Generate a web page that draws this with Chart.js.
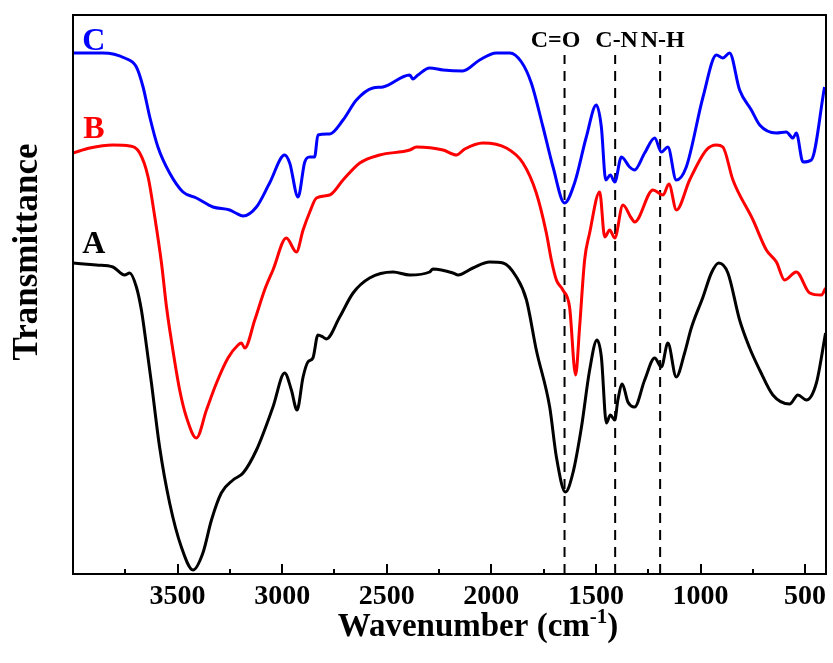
<!DOCTYPE html>
<html>
<head>
<meta charset="utf-8">
<script src="https://cdn.jsdelivr.net/npm/chart.js@4.4.1/dist/chart.umd.min.js"></script>
<style>
html, body { margin: 0; padding: 0; background: #fff; }
canvas { display: block; }
</style>
</head>
<body>
<canvas id="ftir" width="833" height="663"></canvas>
<script>
// sample A (black)
const waveA = [4000,3888,3809,3753,3729,3697,3673,3657,3625,3586,3538,3482,3426,3379,3338,3291,3235,3187,3123,3044,2988,2956,2929,2900,2877,2853,2829,2805,2789,2725,2661,2582,2470,2390,2295,2279,2183,2159,2088,2008,1944,1880,1832,1785,1721,1689,1646,1610,1569,1530,1495,1474,1450,1431,1410,1395,1374,1347,1315,1267,1219,1187,1156,1116,1076,1044,988,948,913,869,813,765,717,654,574,534,494,446,402];
const transA = [311,309,307,299,301,287,264,241,191,127,71,27,4,21,54,81,94,101,124,167,201,184,164,197,212,216,239,237,235,257,281,296,302,299,302,305,301,299,306,312,311,297,274,224,167,117,82,101,147,204,234,217,151,159,154,174,190,172,167,194,216,207,231,197,221,246,277,301,311,301,254,226,204,179,170,179,174,191,241];

// sample B (red)
const waveB = [4000,3920,3809,3729,3681,3641,3609,3577,3553,3530,3490,3458,3410,3362,3314,3259,3211,3195,3179,3131,3084,3044,2980,2932,2900,2868,2836,2773,2709,2629,2534,2390,2358,2231,2167,2127,2040,1928,1849,1785,1737,1713,1689,1658,1626,1597,1578,1554,1530,1482,1458,1434,1410,1371,1331,1315,1227,1179,1151,1115,1052,972,924,893,845,749,685,637,598,542,478,422,402];
const transB = [421,426,429,428,421,397,357,311,267,234,184,157,136,164,191,216,229,231,226,254,284,304,336,322,344,362,376,379,394,411,419,424,427,424,419,425,431,426,411,381,341,314,294,284,267,199,247,314,341,382,337,344,336,369,356,352,384,379,390,364,394,424,429,427,394,354,324,312,294,302,281,279,286];

// sample C (blue)
const waveC = [4000,3857,3753,3697,3665,3633,3594,3538,3474,3410,3331,3251,3222,3187,3123,3060,2988,2964,2924,2892,2868,2845,2829,2773,2709,2645,2566,2518,2390,2375,2351,2295,2231,2137,2056,1976,1912,1856,1809,1753,1705,1650,1602,1546,1498,1474,1453,1431,1410,1378,1339,1315,1267,1219,1187,1156,1116,1068,988,924,893,861,813,757,717,638,590,558,542,510,470,407];
const transC = [521,521,516,507,487,457,427,401,382,376,367,364,361,358,367,391,419,411,377,412,417,417,439,440,454,474,486,487,499,495,499,506,504,503,514,521,521,512,491,447,407,371,391,437,469,447,394,399,392,417,407,404,421,436,422,427,394,407,477,519,516,521,484,464,449,441,442,436,441,412,414,487];

// band markers
const bandWave = [1650, 1408, 1193];
const bandNames = ['C=O', 'C-N', 'N-H'];

// x axis ticks
const xMajorTicks = [3500, 3000, 2500, 2000, 1500, 1000, 500];
const xMinorTicks = [3750, 3250, 2750, 2250, 1750, 1250, 750];

const FONT = '"Liberation Serif", "Times New Roman", serif';

function toPoints(w, t) {
    return w.map((x, i) => ({ x: x, y: t[i] }));
}

const bandTop = 519;

const decor = {
    id: 'decor',
    afterDatasetsDraw(chart) {
        const ctx = chart.ctx;
        const area = chart.chartArea;
        const xs = chart.scales.x;
        const ys = chart.scales.y;
        ctx.save();

        // frame
        ctx.strokeStyle = '#000';
        ctx.lineWidth = 2;
        ctx.strokeRect(area.left, area.top, area.right - area.left, area.bottom - area.top);

        // inward ticks on the bottom axis
        const tick = (v, len) => {
            const px = Math.round(xs.getPixelForValue(v));
            ctx.beginPath();
            ctx.moveTo(px, area.bottom);
            ctx.lineTo(px, area.bottom - len);
            ctx.stroke();
        };
        xMajorTicks.forEach(v => tick(v, 10));
        xMinorTicks.forEach(v => tick(v, 5));

        // band labels
        ctx.fillStyle = '#000';
        ctx.font = 'bold 24px ' + FONT;
        ctx.textAlign = 'center';
        ctx.textBaseline = 'alphabetic';
        const labelX = [1693, 1401, 1181];
        bandNames.forEach((name, i) => {
            ctx.fillText(name, xs.getPixelForValue(labelX[i]), ys.getPixelForValue(527));
        });

        // series letters
        ctx.font = 'bold 32px ' + FONT;
        [['C', '#0000ff', 524], ['B', '#ff0000', 436], ['A', '#000000', 321]].forEach(([t, c, y]) => {
            ctx.fillStyle = c;
            ctx.fillText(t, xs.getPixelForValue(3900), ys.getPixelForValue(y));
        });

        // x title with superscript
        ctx.fillStyle = '#000';
        ctx.textAlign = 'left';
        const big = 'bold 33px ' + FONT;
        const small = 'bold 21px ' + FONT;
        ctx.font = big;
        const w1 = ctx.measureText('Wavenumber (cm').width;
        const w3 = ctx.measureText(')').width;
        ctx.font = small;
        const w2 = ctx.measureText('-1').width;
        let x0 = 478 - (w1 + w2 + w3) / 2;
        const base = 636;
        ctx.font = big;
        ctx.fillText('Wavenumber (cm', x0, base);
        ctx.font = small;
        ctx.fillText('-1', x0 + w1, base - 13);
        ctx.font = big;
        ctx.fillText(')', x0 + w1 + w2, base);

        // y title
        ctx.translate(37, 252);
        ctx.rotate(-Math.PI / 2);
        ctx.textAlign = 'center';
        ctx.font = 'bold 35px ' + FONT;
        ctx.fillText('Transmittance', 0, 0);

        ctx.restore();
    }
};

const datasets = [
    { label: 'C', data: toPoints(waveC, transC), borderColor: '#0000ff' },
    { label: 'B', data: toPoints(waveB, transB), borderColor: '#ff0000' },
    { label: 'A', data: toPoints(waveA, transA), borderColor: '#000000' }
].map(d => Object.assign(d, {
    borderWidth: 3,
    pointRadius: 0,
    fill: false,
    cubicInterpolationMode: 'monotone'
}));

bandWave.forEach((w, i) => {
    datasets.push({
        label: bandNames[i],
        data: [{ x: w, y: 0 }, { x: w, y: bandTop }],
        borderColor: '#000',
        borderWidth: 2,
        borderDash: [10, 7],
        pointRadius: 0,
        fill: false
    });
});

new Chart(document.getElementById('ftir'), {
    type: 'line',
    data: { datasets: datasets },
    options: {
        responsive: false,
        animation: false,
        layout: { padding: { left: 73, right: 7, top: 15, bottom: 0 } },
        plugins: {
            legend: { display: false },
            tooltip: { enabled: false }
        },
        scales: {
            x: {
                type: 'linear',
                reverse: true,
                min: 400,
                max: 4000,
                afterBuildTicks: s => { s.ticks = xMajorTicks.map(v => ({ value: v })); },
                afterFit: s => { s.height = 89; },
                grid: { display: false, drawTicks: false },
                border: { display: false },
                ticks: {
                    color: '#000',
                    padding: 6,
                    maxRotation: 0,
                    autoSkip: false,
                    callback: v => String(v),
                    font: { family: FONT, size: 28, weight: 'bold' }
                }
            },
            y: {
                min: 0,
                max: 559,
                display: false
            }
        }
    },
    plugins: [decor]
});
</script>
</body>
</html>
